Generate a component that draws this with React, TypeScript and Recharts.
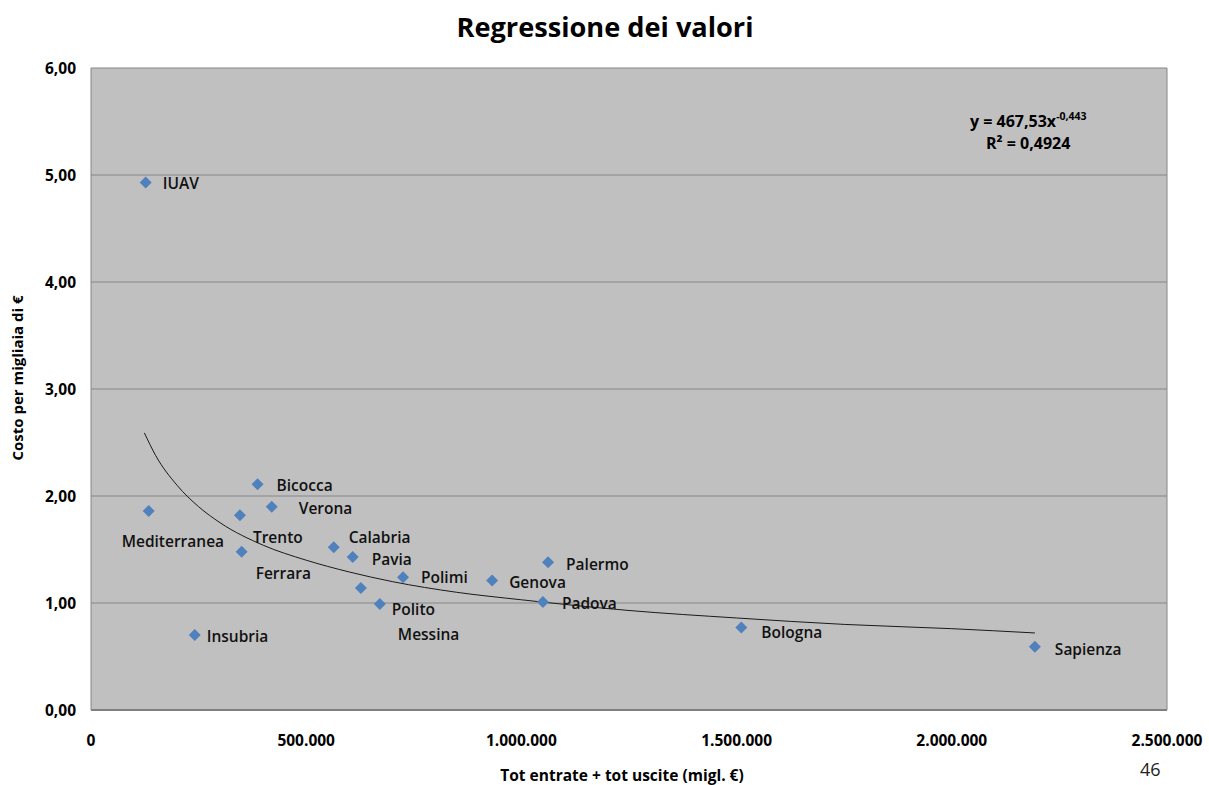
import React from 'react';
import {
  ComposedChart,
  Scatter,
  Line,
  XAxis,
  YAxis,
  CartesianGrid,
  ReferenceLine,
} from 'recharts';

// Universities and their values (x: tot entrate + tot uscite, migl. €; y: costo per migliaia di €)
const UNIVERSITIES = [
  'IUAV', 'Mediterranea', 'Insubria', 'Bicocca', 'Trento', 'Ferrara', 'Verona',
  'Calabria', 'Pavia', 'Messina', 'Polito', 'Polimi', 'Genova', 'Palermo',
  'Padova', 'Bologna', 'Sapienza',
];
const TOTALS = [
  127000, 134000, 241000, 387000, 346000, 350000, 420000,
  564000, 608000, 627000, 671000, 725000, 932000, 1062000,
  1050000, 1511000, 2193000,
];
const COSTS = [
  4.93, 1.86, 0.70, 2.11, 1.82, 1.48, 1.90,
  1.52, 1.43, 1.14, 0.99, 1.24, 1.21, 1.38,
  1.01, 0.77, 0.59,
];

// Power trendline
const TREND_X = [124000, 150000, 200000, 250000, 300000, 400000, 500000, 600000, 700000, 850000, 1000000, 1250000, 1500000, 1750000, 2000000, 2193000];
const TREND_Y = [2.59, 2.38, 2.10, 1.90, 1.75, 1.54, 1.40, 1.29, 1.20, 1.10, 1.03, 0.93, 0.86, 0.80, 0.76, 0.72];

const X_TICKS = [0, 500000, 1000000, 1500000, 2000000, 2500000];
const Y_TICKS = [0, 1, 2, 3, 4, 5, 6];

// label placement relative to the marker (text start, vertical centre)
const LABEL_OFFSETS: Record<string, [number, number]> = {
  IUAV: [17, 1],
  Mediterranea: [-27, 30],
  Insubria: [12, 1],
  Bicocca: [19, 1],
  Trento: [13, 22],
  Ferrara: [14, 21],
  Verona: [27, 1],
  Calabria: [15, -10],
  Pavia: [19, 2],
  Messina: [37, 46],
  Polito: [12, 5],
  Polimi: [18, 0],
  Genova: [17, 1],
  Palermo: [18, 2],
  Padova: [19, 1],
  Bologna: [20, 4],
  Sapienza: [20, 2],
};

const FONT = '"Open Sans", "DejaVu Sans", sans-serif';
const MARKER = '#4F81BD';
const GRID = '#868686';

const points = UNIVERSITIES.map((name, i) => ({ name, x: TOTALS[i], y: COSTS[i] }));
const trend = TREND_X.map((x, i) => ({ x, y: TREND_Y[i] }));

const fmtThousands = (v: number) =>
  String(Math.round(v)).replace(/\B(?=(\d{3})+(?!\d))/g, '.');
const fmtY = (v: number) => v.toFixed(2).replace('.', ',');

function DiamondWithLabel(props: any) {
  const { cx, cy, payload } = props;
  if (cx == null || cy == null) return null;
  const r = 6;
  const [dx, dy] = LABEL_OFFSETS[payload.name] || [16, 0];
  return (
    <g>
      <polygon
        points={`${cx},${cy - r} ${cx + r},${cy} ${cx},${cy + r} ${cx - r},${cy}`}
        fill={MARKER}
      />
      <text
        x={cx + dx}
        y={cy + dy}
        dominantBaseline="central"
        fontFamily={FONT}
        fontSize={15.5}
        fontWeight={600}
        fill="#111"
      >
        {payload.name}
      </text>
    </g>
  );
}

export default function App() {
  return (
    <div style={{ position: 'absolute', left: 0, top: 0, width: 1209, height: 785, background: '#fff' }}>
      <ComposedChart
        width={1209}
        height={785}
        margin={{ top: 68, right: 42, bottom: 25, left: 21 }}
      >
        <CartesianGrid vertical={false} stroke={GRID} fill="#C0C0C0" fillOpacity={1} />
        <XAxis
          type="number"
          dataKey="x"
          domain={[0, 2500000]}
          ticks={X_TICKS}
          tickFormatter={fmtThousands}
          height={50}
          tickSize={0}
          tickMargin={25}
          axisLine={{ stroke: '#7f7f7f', strokeWidth: 2 }}
          tick={{ fill: '#000', fontSize: 15.5, fontWeight: 700, fontFamily: FONT }}
          allowDataOverflow
        />
        <YAxis
          type="number"
          dataKey="y"
          domain={[0, 6]}
          ticks={Y_TICKS}
          tickFormatter={fmtY}
          width={70}
          tickSize={0}
          tickMargin={15}
          axisLine={{ stroke: GRID }}
          tick={{ fill: '#000', fontSize: 15.5, fontWeight: 700, fontFamily: FONT }}
        />
        <ReferenceLine x={2500000} stroke={GRID} ifOverflow="visible" />
        <Scatter
          data={points}
          dataKey="y"
          shape={DiamondWithLabel}
          isAnimationActive={false}
        />
        <Line
          data={trend}
          dataKey="y"
          type="monotone"
          dot={false}
          activeDot={false}
          stroke="#1a1a1a"
          strokeWidth={1}
          isAnimationActive={false}
        />
      </ComposedChart>
      <svg
        width={1209}
        height={785}
        style={{ position: 'absolute', left: 0, top: 0, pointerEvents: 'none' }}
      >
        <text
          x={605}
          y={37}
          textAnchor="middle"
          fontFamily={FONT}
          fontSize={26}
          fontWeight={700}
          fill="#000"
          textLength={297}
          lengthAdjust="spacingAndGlyphs"
        >
          Regressione dei valori
        </text>
        <text
          x={622}
          y={781}
          textAnchor="middle"
          fontFamily={FONT}
          fontSize={15.5}
          fontWeight={700}
          fill="#000"
        >
          Tot entrate + tot uscite (migl. €)
        </text>
        <text
          x={23}
          y={378}
          textAnchor="middle"
          transform="rotate(-90 23 378)"
          fontFamily={FONT}
          fontSize={15}
          fontWeight={700}
          fill="#000"
        >
          Costo per migliaia di €
        </text>
        <text x={970} y={127} fontFamily={FONT} fontSize={16} fontWeight={700} fill="#000">
          y = 467,53x
          <tspan fontSize={10.5} dy={-7}>-0,443</tspan>
        </text>
        <text x={986} y={149} fontFamily={FONT} fontSize={16} fontWeight={700} fill="#000">
          R² = 0,4924
        </text>
        <text x={1140} y={776} fontFamily={FONT} fontSize={18} fill="#222">
          46
        </text>
      </svg>
    </div>
  );
}
